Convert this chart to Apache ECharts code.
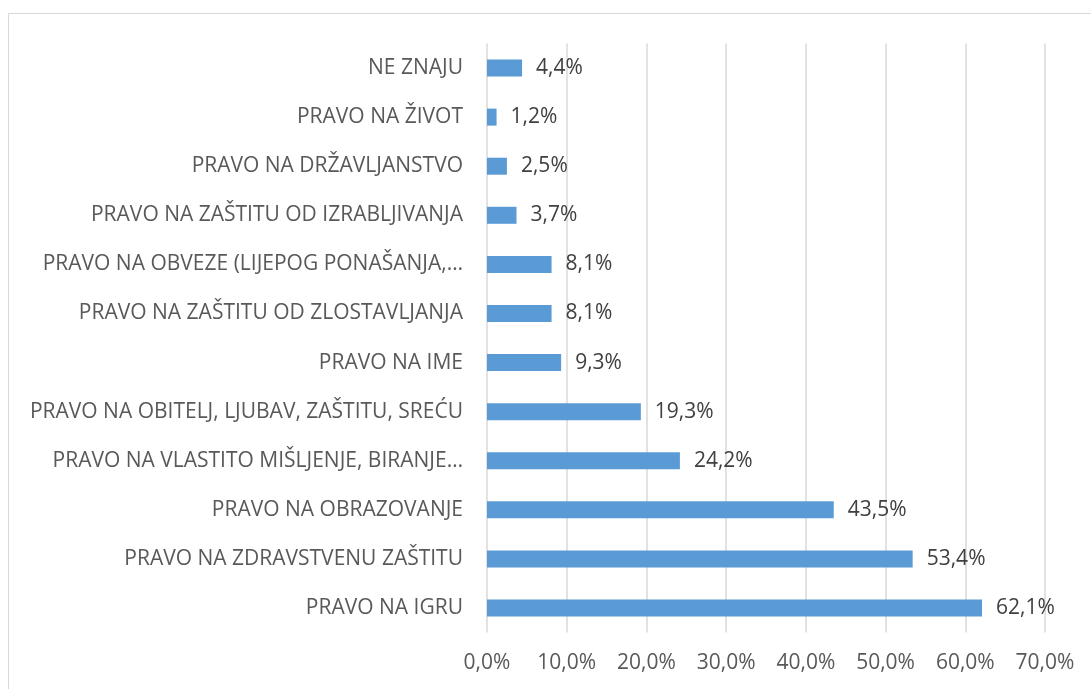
<!DOCTYPE html>
<html>
<head>
<meta charset="utf-8">
<script src="https://cdn.jsdelivr.net/npm/echarts@6/dist/echarts.min.js"></script>
<style>
  html, body { margin: 0; padding: 0; background: #fff; }
  #frame { position: absolute; left: 8px; top: 13px; width: 1100px; height: 700px; border: 1px solid #d9d9d9; box-sizing: border-box; }
  #chart { position: absolute; left: 0; top: 0; width: 1091px; height: 689px; }
</style>
</head>
<body>
<div id="frame"></div>
<div id="chart"></div>
<script>
// kategorije odozgo prema dolje
var categories = [
  'NE ZNAJU',
  'PRAVO NA ŽIVOT',
  'PRAVO NA DRŽAVLJANSTVO',
  'PRAVO NA ZAŠTITU OD IZRABLJIVANJA',
  'PRAVO NA OBVEZE (LIJEPOG PONAŠANJA,…',
  'PRAVO NA ZAŠTITU OD ZLOSTAVLJANJA',
  'PRAVO NA IME',
  'PRAVO NA OBITELJ, LJUBAV, ZAŠTITU, SREĆU',
  'PRAVO NA VLASTITO MIŠLJENJE, BIRANJE…',
  'PRAVO NA OBRAZOVANJE',
  'PRAVO NA ZDRAVSTVENU ZAŠTITU',
  'PRAVO NA IGRU'
];
var values = [4.4, 1.2, 2.5, 3.7, 8.1, 8.1, 9.3, 19.3, 24.2, 43.5, 53.4, 62.1];

function pct(v) {
  return Number(v).toFixed(1).replace('.', ',') + '%';
}

var myChart = echarts.init(document.getElementById('chart'));
myChart.setOption({
  animation: false,
  textStyle: { fontFamily: 'Open Sans' },
  grid: { left: 487, right: 46, top: 43.5, bottom: 56.5, containLabel: false },
  xAxis: {
    type: 'value',
    min: 0,
    max: 70,
    interval: 10,
    axisLine: { show: false },
    axisTick: { show: false },
    splitLine: { show: true, lineStyle: { color: '#d9d9d9', width: 1.5 } },
    axisLabel: { color: '#595959', fontSize: 21, margin: 20, formatter: pct }
  },
  yAxis: {
    type: 'category',
    inverse: true,
    data: categories,
    axisLine: { show: false },
    axisTick: { show: false },
    axisLabel: { color: '#595959', fontSize: 21, margin: 24 }
  },
  series: [
    {
      type: 'bar',
      data: values,
      barWidth: 17,
      itemStyle: { color: '#5b9bd5' },
      label: {
        show: true,
        position: 'right',
        distance: 14,
        color: '#404040',
        fontSize: 21,
        formatter: function (p) { return pct(p.value); }
      }
    }
  ]
});
</script>
</body>
</html>
